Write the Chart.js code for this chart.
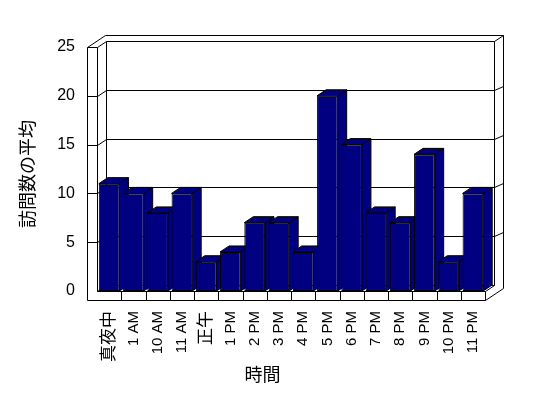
<!DOCTYPE html>
<html>
<head>
<meta charset="utf-8">
<script src="https://cdn.jsdelivr.net/npm/chart.js@4.4.0/dist/chart.umd.min.js"></script>
<style>
body { margin: 0; background: #fff; }
</style>
</head>
<body>
<canvas id="myChart" width="548" height="398"></canvas>
<script>
var hours = ['真夜中', '1 AM', '10 AM', '11 AM', '正午', '1 PM', '2 PM', '3 PM', '4 PM', '5 PM', '6 PM', '7 PM', '8 PM', '9 PM', '10 PM', '11 PM'];
var avgVisits = [11, 10, 8, 10, 3, 4, 7, 7, 4, 20, 15, 8, 7, 14, 3, 10];
var yTicks = [0, 5, 10, 15, 20, 25];
var yTitle = '訪問数の平均';
var xTitle = '時間';

var FONT = '"Liberation Sans", "Noto Sans CJK JP", sans-serif';
var NAVY = '#000080';
// depth step of the fake 3d box (one step = wall to back wall)
var DX = 9, DY = -6;

function px(v) { return Math.round(v) + 0.5; }

function seg(c, x1, y1, x2, y2) {
    c.beginPath();
    c.moveTo(x1, y1);
    c.lineTo(x2, y2);
    c.stroke();
}

function poly(c, pts) {
    c.beginPath();
    c.moveTo(pts[0][0], pts[0][1]);
    for (var i = 1; i < pts.length; i++) c.lineTo(pts[i][0], pts[i][1]);
    c.closePath();
    c.fill();
    c.stroke();
}

var box3d = {
    id: 'box3d',
    beforeDatasetsDraw: function(chart) {
        var c = chart.ctx, a = chart.chartArea;
        var ys = chart.scales.y, xs = chart.scales.x;
        var L = px(a.left), R = px(a.right), T = px(a.top), B = px(a.bottom);
        var wallL = L - 10, floorB = B + 9;
        c.save();
        c.lineWidth = 1;
        c.strokeStyle = '#000';

        // grid lines: left wall face, left wall inside, back wall
        yTicks.forEach(function(v) {
            var y = px(ys.getPixelForValue(v));
            if (v > 0 && v < 25) {
                seg(c, wallL, y, L, y);
                seg(c, L, y, L + DX, y + DY);
                seg(c, L + DX, y + DY, R + DX, y + DY);
                seg(c, R + DX, y + DY, R + 2 * DX, y + DY - 4);
            }
        });
        // floor back edge
        seg(c, L, B, L + DX, B + DY);
        seg(c, L + DX, B + DY, R + DX, B + DY);

        // wall verticals
        seg(c, wallL, T, wallL, floorB);
        seg(c, L, T, L, B);
        seg(c, L + DX, T + DY, L + DX, B + DY);
        seg(c, R + DX, T + DY, R + DX, B + DY);
        seg(c, R + 2 * DX, T + 2 * DY, R + 2 * DX, floorB + 2 * DY);

        // wall top rim
        seg(c, wallL, T, L, T);
        seg(c, wallL, T, wallL + 2 * DX, T + 2 * DY);
        seg(c, wallL + 2 * DX, T + 2 * DY, R + 2 * DX, T + 2 * DY);
        seg(c, L, T, L + DX, T + DY);
        seg(c, L + DX, T + DY, R + DX, T + DY);
        seg(c, R + DX, T + DY, R + 2 * DX, T + 2 * DY);

        // floor slab
        seg(c, L, B, R, B);
        seg(c, wallL, floorB, R, floorB);
        seg(c, R, B, R, floorB);
        seg(c, R, B, R + DX, B + DY);
        seg(c, R, floorB, R + 2 * DX, floorB + 2 * DY);

        // category ticks on the floor edge
        for (var i = 1; i < hours.length; i++) {
            var x = px((xs.getPixelForValue(i - 1) + xs.getPixelForValue(i)) / 2);
            seg(c, x, B, x, floorB);
        }

        // bar sides and tops, left to right
        c.fillStyle = NAVY;
        chart.getDatasetMeta(0).data.forEach(function(bar) {
            var l = bar.x - bar.width / 2, r = bar.x + bar.width / 2;
            var t = bar.y, b = bar.base;
            poly(c, [[r, t], [r + DX, t + DY], [r + DX, b + DY], [r, b]]);
            poly(c, [[l, t], [l + DX, t + DY], [r + DX, t + DY], [r, t]]);
        });
        c.restore();
    },
    afterDraw: function(chart) {
        var c = chart.ctx;
        c.save();
        c.fillStyle = '#000';
        c.font = '18px "Noto Sans CJK JP", sans-serif';
        c.textAlign = 'center';
        c.textBaseline = 'middle';
        c.fillText(xTitle, 262.5, 374.5);
        c.translate(27.5, 174);
        c.rotate(-Math.PI / 2);
        c.fillText(yTitle, 0, 0);
        c.restore();
    }
};

function drawChart() {
    var ctx = document.getElementById('myChart').getContext('2d');
    new Chart(ctx, {
        type: 'bar',
        data: {
            labels: hours,
            datasets: [{
                data: avgVisits,
                backgroundColor: NAVY,
                borderColor: '#000',
                borderWidth: 1,
                borderSkipped: false,
                categoryPercentage: 1,
                barPercentage: 0.85
            }]
        },
        options: {
            responsive: false,
            animation: false,
            layout: { padding: { left: 0, right: 63, top: 47, bottom: 0 } },
            plugins: { legend: { display: false }, tooltip: { enabled: false } },
            scales: {
                x: {
                    grid: { display: false, drawTicks: false },
                    border: { display: false },
                    ticks: {
                        autoSkip: false,
                        maxRotation: 90,
                        minRotation: 90,
                        padding: 20,
                        color: '#000',
                        font: function(context) {
                            var lab = hours[context.index] || '';
                            return { family: FONT, size: /[^\x00-\x7F]/.test(lab) ? 17 : 15 };
                        }
                    },
                    afterFit: function(s) { s.height = 107; }
                },
                y: {
                    min: 0,
                    max: 25,
                    grid: { display: false, drawTicks: false },
                    border: { display: false },
                    ticks: { stepSize: 5, padding: 22, color: '#000', font: { family: FONT, size: 16 } },
                    afterFit: function(s) { s.width = 97; }
                }
            }
        },
        plugins: [box3d]
    });
}

drawChart();
</script>
</body>
</html>
